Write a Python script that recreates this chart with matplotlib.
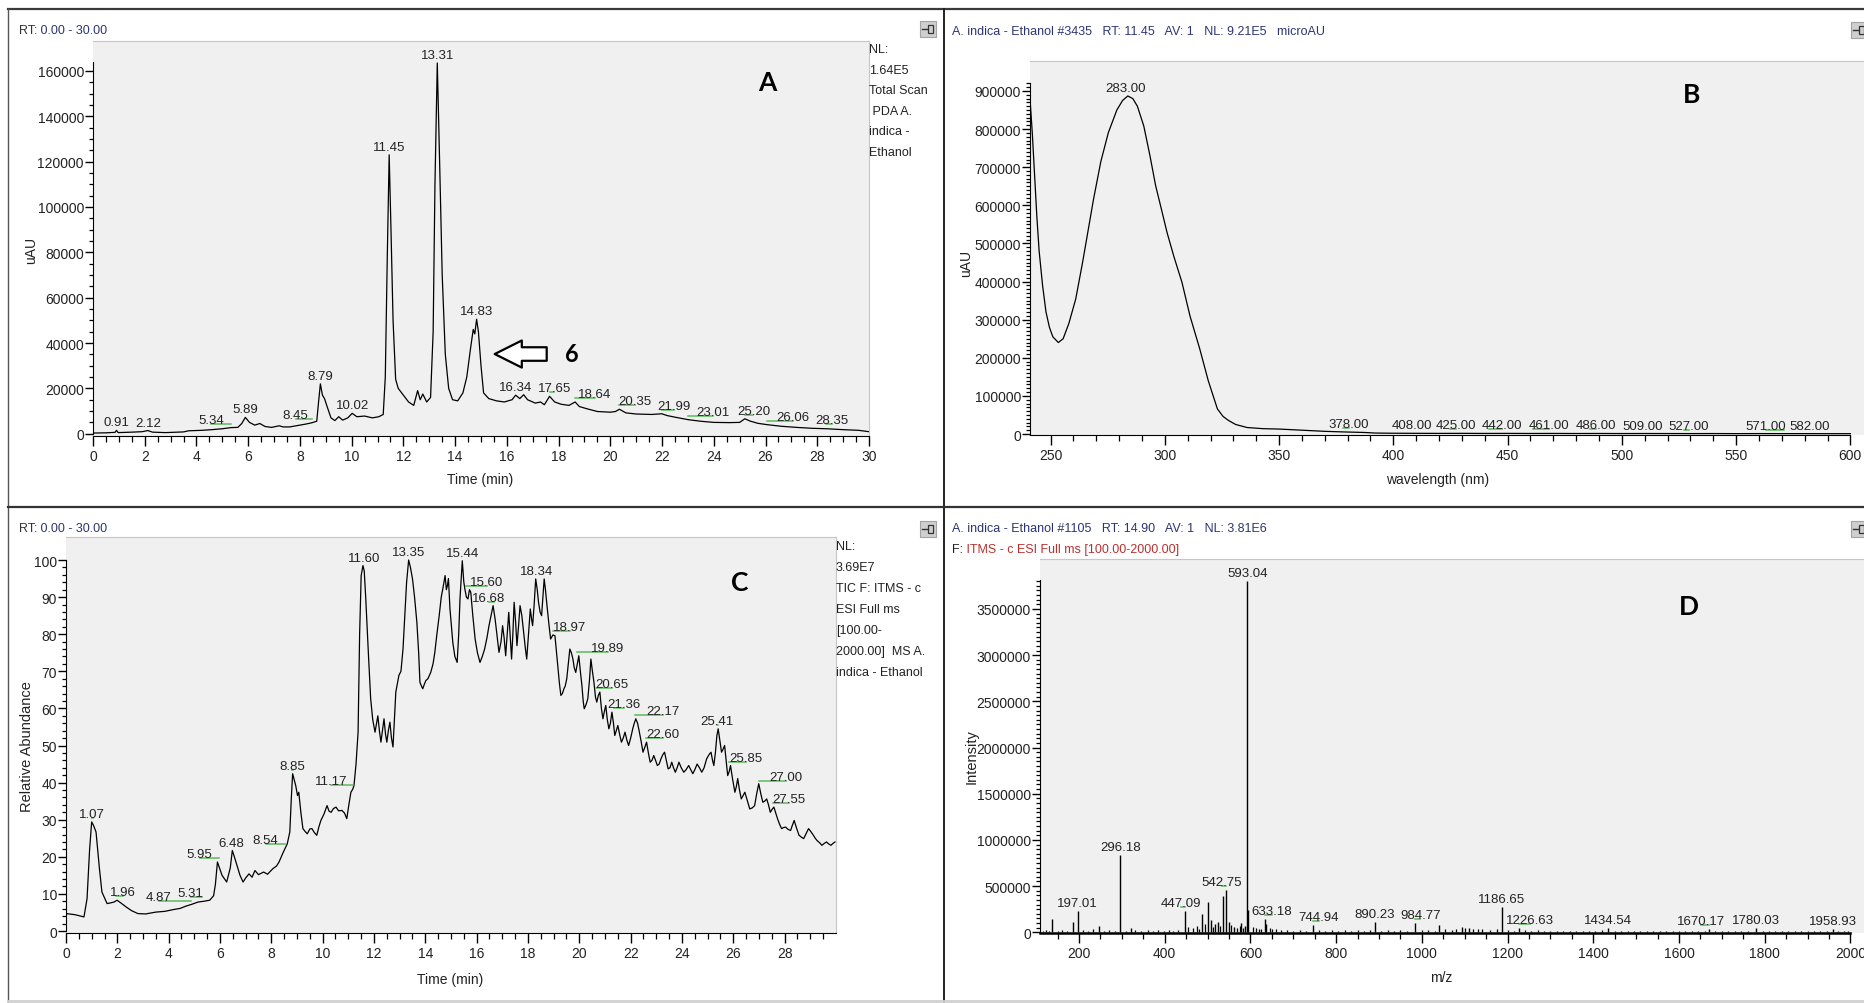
import numpy as np
import matplotlib
matplotlib.use('Agg')
import matplotlib.pyplot as plt
import matplotlib.transforms as mtransforms
from matplotlib import font_manager
from matplotlib.ticker import FixedLocator, FuncFormatter
from matplotlib.patches import Rectangle
from matplotlib.lines import Line2D

# ---------------- data ----------------
# A: PDA total scan chromatogram (uAU vs time)
a_time = [0.0, 0.5, 0.85, 0.91, 0.97, 1.5, 1.9, 2.12, 2.3, 2.8, 3.5, 3.7, 4.2, 4.6, 5.0, 5.34,
          5.6, 5.75, 5.89, 6.05, 6.25, 6.45, 6.65, 6.9, 7.2, 7.35, 7.6, 7.9, 8.2, 8.45, 8.65,
          8.72, 8.79, 8.87, 8.95, 9.05, 9.2, 9.35, 9.5, 9.65, 9.85, 10.02, 10.2, 10.5, 10.8,
          11.05, 11.22, 11.3, 11.38, 11.45, 11.52, 11.6, 11.7, 11.8, 12.0, 12.2, 12.4, 12.55,
          12.65, 12.75, 12.9, 13.05, 13.15, 13.22, 13.31, 13.4, 13.5, 13.62, 13.75, 13.9,
          14.1, 14.3, 14.45, 14.6, 14.7, 14.76, 14.83, 14.9, 15.0, 15.1, 15.3, 15.6, 15.9,
          16.2, 16.34, 16.5, 16.65, 16.8, 17.1, 17.3, 17.45, 17.65, 17.85, 18.1, 18.4, 18.64,
          18.8, 19.1, 19.5, 20.0, 20.2, 20.35, 20.6, 21.0, 21.6, 21.99, 22.2, 22.5, 23.01,
          23.5, 24.0, 24.6, 25.0, 25.2, 25.4, 25.7, 26.06, 26.6, 27.2, 27.8, 28.35, 29.0,
          29.6, 30.0]
a_uau = [300, 400, 600, 1500, 500, 700, 900, 1400, 700, 500, 800, 1300, 1500, 1800, 2200, 2700,
         2800, 4500, 7200, 5000, 3800, 4500, 3200, 2800, 3500, 3000, 3000, 3600, 4200, 4800, 5500,
         14000, 22000, 17000, 15500, 12000, 7000, 5800, 7500, 6000, 7000, 9000, 7500, 7800, 7000,
         7500, 8500, 25000, 80000, 123000, 90000, 50000, 24000, 20000, 17000, 14000, 12500, 19000,
         15000, 17500, 14000, 16000, 45000, 110000, 163500, 120000, 70000, 35000, 20000, 15000,
         14500, 18000, 25000, 38000, 46000, 44000, 50500, 45000, 30000, 18000, 15500, 14500, 14000,
         15000, 17000, 15500, 17200, 15000, 13500, 14000, 12800, 16500, 14000, 13000, 12500, 14000,
         12000, 11000, 9800, 9500, 9800, 10800, 9200, 8700, 8500, 8800, 8000, 7300, 6200,
         5500, 5000, 4900, 5000, 6600, 5600, 4600, 4000, 3300, 2800, 2400, 2200, 1800,
         1500, 900]
a_peaks = [0.91, 2.12, 5.34, 5.89, 8.45, 8.79, 10.02, 11.45, 13.31, 14.83, 16.34, 17.65,
           18.64, 20.35, 21.99, 23.01, 25.20, 26.06, 28.35]

# B: UV spectrum at RT 11.45 (uAU vs wavelength)
b_wl = [241, 242, 243, 244, 245, 246.5, 248, 249.5, 251, 253.4, 255.5, 258, 261, 264, 268.8,
        272, 275.3, 279, 281.5, 283.8, 286, 288, 290.8, 293.5, 296, 298.5, 301, 304, 307.5,
        311, 315.3, 319, 323, 325.5, 328, 331, 336, 343, 350, 360, 370, 378, 387.5, 392, 400,
        410, 420, 430, 440, 450, 460, 470, 480, 490, 500, 510, 520, 530, 540, 550, 560, 570,
        580, 590, 600]
b_uau = [880000, 790000, 680000, 570000, 480000, 390000, 320000, 280000, 255000, 240000, 250000,
         290000, 354000, 450000, 616000, 715000, 791000, 850000, 875000, 887000, 880000, 860000,
         808000, 730000, 651000, 590000, 528000, 465000, 398000, 310000, 223000, 140000, 66000,
         46000, 35000, 25000, 17000, 14000, 13000, 10000, 7000, 5500, 4000, 2500, 2000, 1800,
         1600, 1700, 1500, 1600, 1400, 1500, 1300, 1400, 1200, 1300, 1200, 1100, 1200, 1000,
         1100, 1000, 1000, 900, 900]
b_peaks = [283.00, 378.00, 408.00, 425.00, 442.00, 461.00, 486.00, 509.00, 527.00, 571.00, 582.00]

# C: TIC chromatogram (relative abundance vs time), (time, abundance)
c_trace = [(0.0, 4.7), (0.35, 4.4), (0.7, 3.8), (0.82, 8.7), (0.92, 22), (1.0, 29.4), (1.07, 28.5),
           (1.17, 26.7), (1.3, 17), (1.4, 10.5), (1.6, 7.4), (1.75, 7.6), (1.87, 7.8), (1.99, 8.3),
           (2.15, 7.5), (2.34, 6.5), (2.55, 5.5), (2.8, 4.7), (3.1, 4.6), (3.5, 5.1), (3.85, 5.3),
           (4.2, 5.8), (4.45, 6.1), (4.67, 6.7), (4.9, 7.2), (5.14, 7.8), (5.35, 8.0), (5.6, 8.3),
           (5.75, 9.5), (5.82, 12.5), (5.9, 18.6), (5.98, 17.0), (6.08, 15.0), (6.26, 13.2),
           (6.4, 17), (6.48, 21.7), (6.56, 20), (6.66, 17.7), (6.78, 15), (6.9, 13.2), (7.0, 14.3),
           (7.13, 15.4), (7.25, 14.5), (7.36, 16.3), (7.5, 15.2), (7.7, 15.9), (7.85, 15.3),
           (8.06, 16.8), (8.2, 17.5), (8.3, 18.6), (8.45, 21), (8.53, 22.2), (8.62, 23.5),
           (8.72, 26.7), (8.78, 36), (8.83, 42.4), (8.9, 40.5), (8.95, 39.2), (9.02, 36.5),
           (9.07, 37.4), (9.15, 32), (9.23, 27.6), (9.32, 26.8), (9.4, 26.2), (9.5, 27.5),
           (9.58, 27.6), (9.68, 26.5), (9.77, 25.8), (9.85, 28), (9.93, 29.8), (10.05, 31.5),
           (10.17, 33.8), (10.25, 32.3), (10.33, 32), (10.42, 33), (10.52, 33.4), (10.62, 32.4),
           (10.75, 32.5), (10.85, 31.8), (10.94, 30.3), (11.02, 34), (11.1, 37.4), (11.17, 38.2),
           (11.22, 39.2), (11.3, 45), (11.38, 53.6), (11.44, 80), (11.5, 95.8), (11.57, 98.5),
           (11.62, 97), (11.68, 89.5), (11.78, 75), (11.87, 62.6), (11.95, 57), (12.04, 53.6),
           (12.1, 56), (12.15, 58), (12.21, 54), (12.27, 50.9), (12.33, 54), (12.39, 57.2),
           (12.45, 53), (12.5, 50.9), (12.56, 54), (12.62, 56.3), (12.68, 52), (12.74, 49.6),
           (12.8, 58), (12.85, 64.4), (12.97, 68.9), (13.05, 70), (13.13, 76), (13.2, 85),
           (13.27, 94), (13.35, 100), (13.42, 98), (13.5, 94.9), (13.58, 90), (13.67, 83.2),
           (13.74, 75), (13.79, 67), (13.85, 66), (13.9, 65.3), (13.96, 66.5), (14.02, 67.5),
           (14.1, 68), (14.21, 69.7), (14.3, 72), (14.37, 75.1), (14.45, 80), (14.54, 85),
           (14.62, 90), (14.68, 92.2), (14.77, 95.8), (14.82, 92), (14.86, 93.1), (14.9, 95),
           (14.96, 86.8), (15.02, 82), (15.07, 77.8), (15.15, 74), (15.24, 72.4), (15.3, 80),
           (15.35, 89.5), (15.44, 99.8), (15.5, 94), (15.54, 92.2), (15.6, 90), (15.66, 89.5),
           (15.72, 92), (15.77, 91.3), (15.85, 85), (15.94, 78.7), (16.03, 75), (16.13, 72.4),
           (16.22, 74), (16.31, 76), (16.4, 79), (16.48, 82.3), (16.56, 85), (16.64, 87.7),
           (16.72, 84), (16.78, 80.5), (16.87, 75.1), (16.95, 78), (17.01, 82.3), (17.07, 79),
           (17.13, 74.2), (17.19, 80), (17.25, 85.9), (17.3, 80), (17.36, 73.3), (17.41, 80),
           (17.46, 88.6), (17.52, 83), (17.57, 76.9), (17.63, 82), (17.69, 87.7), (17.76, 85),
           (17.83, 80.5), (17.9, 76), (17.95, 73.3), (18.02, 80), (18.09, 86.8), (18.14, 84),
           (18.18, 82.3), (18.24, 88), (18.3, 94.9), (18.36, 92), (18.41, 88.6), (18.47, 86),
           (18.53, 85), (18.58, 90), (18.63, 94.9), (18.68, 92), (18.74, 87.7), (18.81, 83),
           (18.88, 78.7), (18.97, 79.8), (19.05, 79.6), (19.1, 76), (19.16, 71.5), (19.22, 67),
           (19.28, 63.5), (19.34, 64), (19.4, 65.3), (19.45, 66), (19.51, 68), (19.57, 72),
           (19.63, 76), (19.69, 75), (19.75, 73.3), (19.8, 71), (19.86, 69.7), (19.92, 72),
           (19.98, 74.2), (20.04, 70), (20.1, 66.2), (20.15, 62), (20.19, 59.9), (20.26, 61),
           (20.33, 62.6), (20.4, 68), (20.45, 73.3), (20.51, 70), (20.57, 67), (20.63, 63),
           (20.68, 61.7), (20.74, 63.5), (20.8, 64.4), (20.86, 60), (20.92, 57.2), (20.97, 59),
           (21.03, 60.8), (21.09, 57), (21.15, 54.5), (21.21, 56), (21.27, 59), (21.33, 56),
           (21.38, 52.7), (21.44, 54), (21.5, 55.4), (21.57, 53), (21.64, 50.9), (21.71, 52),
           (21.78, 53.6), (21.85, 51.5), (21.92, 50), (22.0, 52), (22.08, 54.5), (22.14, 56),
           (22.2, 57.2), (22.27, 56), (22.34, 53.6), (22.41, 51), (22.48, 48.2), (22.55, 49.5),
           (22.62, 50.9), (22.69, 48), (22.76, 45.5), (22.83, 46), (22.9, 47.3), (22.97, 46),
           (23.04, 44.6), (23.11, 45), (23.18, 46.4), (23.25, 47.5), (23.32, 48.2), (23.39, 46),
           (23.46, 43.7), (23.53, 44), (23.6, 45.5), (23.67, 44), (23.74, 42.8), (23.81, 44),
           (23.88, 45.5), (23.97, 44), (24.07, 42.8), (24.16, 43.5), (24.26, 44.6), (24.34, 43.5),
           (24.42, 42.4), (24.5, 43.5), (24.59, 45), (24.68, 44), (24.77, 42.8), (24.86, 44),
           (24.96, 46.4), (25.05, 47.5), (25.13, 48.2), (25.19, 46), (25.24, 44.6), (25.3, 48),
           (25.36, 52.7), (25.41, 54.5), (25.48, 51), (25.54, 48.2), (25.6, 49), (25.66, 50),
           (25.72, 46), (25.78, 41.9), (25.84, 43), (25.89, 44.6), (25.97, 41), (26.06, 37.4),
           (26.12, 39), (26.17, 41.1), (26.24, 38), (26.31, 35.6), (26.38, 36.5), (26.45, 37.4),
           (26.55, 35), (26.64, 32.9), (26.74, 33.2), (26.83, 33.8), (26.91, 37), (26.99, 39.7),
           (27.07, 37), (27.15, 34.7), (27.22, 35), (27.3, 35.6), (27.37, 34), (27.44, 32),
           (27.51, 32.8), (27.58, 33.4), (27.65, 31.8), (27.72, 30.3), (27.8, 28.8), (27.88, 27.6),
           (27.96, 27.9), (28.04, 28), (28.13, 27.4), (28.23, 27.1), (28.3, 28.5), (28.37, 29.8),
           (28.46, 27.8), (28.56, 25.8), (28.65, 25.3), (28.74, 24.9), (28.83, 26.2), (28.93, 27.6),
           (29.02, 26.8), (29.12, 25.8), (29.19, 25), (29.26, 24.4), (29.36, 23.8), (29.45, 23.1),
           (29.54, 23.6), (29.63, 24), (29.71, 23.5), (29.8, 23.1), (29.88, 23.6), (29.96, 24)]
c_time = [p[0] for p in c_trace]
c_rel = [p[1] for p in c_trace]
c_peaks = [1.07, 1.96, 4.87, 5.31, 5.95, 6.48, 8.54, 8.85, 11.17, 11.60, 13.35, 15.44, 15.60,
           16.68, 18.34, 18.97, 19.89, 20.65, 21.36, 22.17, 22.60, 25.41, 25.85, 27.00, 27.55]

# D: full MS spectrum at RT 14.90 (intensity vs m/z)
d_mz = [138, 185, 197.01, 246, 296.18, 322, 447.09, 488, 500, 507.6, 517, 524.7, 535, 542.75,
        550, 561, 579, 587, 593.04, 594.1, 633.18, 636, 744.94, 890.23, 984.77, 1040, 1093, 1110,
        1186.65, 1226.63, 1434.54, 1670.17, 1780.03, 1958.93]
d_int = [144000, 108000, 234000, 65000, 837000, 43000, 234000, 202000, 325000, 137000, 90000,
         108000, 390000, 462000, 108000, 54000, 101000, 72000, 3806000, 240000, 144000, 90000,
         79000, 108000, 101000, 79000, 55000, 45000, 277000, 45000, 50000, 40000, 45000, 40000]
# small noise sticks along the baseline, (m/z, intensity)
d_noise = [(115, 15000), (122, 22000), (130, 12000), (150, 18000), (160, 25000), (172, 14000),
           (210, 20000), (222, 12000), (233, 30000), (258, 16000), (270, 22000), (283, 14000),
           (310, 18000), (330, 26000), (345, 12000), (360, 20000), (372, 15000), (385, 24000),
           (398, 13000), (410, 28000), (420, 17000), (432, 22000), (455, 60000), (465, 45000),
           (475, 70000), (480, 40000), (495, 90000), (512, 60000), (528, 70000), (555, 80000),
           (568, 50000), (575, 65000), (583, 45000), (605, 60000), (612, 50000), (620, 40000),
           (625, 35000), (645, 45000), (650, 38000), (660, 30000), (672, 22000), (685, 26000),
           (700, 18000), (715, 24000), (730, 16000), (760, 22000), (775, 18000), (790, 25000),
           (805, 14000), (820, 20000), (835, 17000), (850, 23000), (865, 15000), (880, 20000),
           (905, 16000), (920, 24000), (935, 13000), (950, 20000), (965, 18000), (1000, 25000),
           (1015, 20000), (1030, 16000), (1055, 30000), (1070, 25000), (1080, 35000),
           (1100, 45000), (1120, 38000), (1130, 30000), (1140, 35000), (1160, 28000),
           (1175, 32000), (1200, 20000), (1215, 18000), (1240, 22000), (1255, 16000),
           (1270, 20000), (1285, 15000), (1300, 18000), (1315, 14000), (1330, 17000),
           (1345, 13000), (1360, 19000), (1375, 15000), (1390, 18000), (1405, 14000),
           (1420, 20000), (1450, 16000), (1465, 18000), (1480, 14000), (1495, 17000),
           (1510, 13000), (1525, 19000), (1540, 15000), (1555, 17000), (1570, 13000),
           (1585, 18000), (1600, 14000), (1615, 16000), (1630, 12000), (1645, 17000),
           (1660, 14000), (1685, 15000), (1700, 18000), (1715, 13000), (1730, 16000),
           (1745, 12000), (1760, 17000), (1795, 14000), (1810, 16000), (1825, 12000),
           (1840, 15000), (1855, 13000), (1870, 17000), (1885, 12000), (1900, 15000),
           (1915, 13000), (1930, 16000), (1945, 12000), (1970, 14000), (1985, 18000),
           (1995, 11000)]
d_noise_mz = [p[0] for p in d_noise]
d_noise_int = [p[1] for p in d_noise]
d_peaks = [197.01, 296.18, 447.09, 542.75, 593.04, 633.18, 744.94, 890.23, 984.77, 1186.65,
           1226.63, 1434.54, 1670.17, 1780.03, 1958.93]

# label shifts (x offset of the peak label from its peak, in data units)
a_dx = [0, 0, -0.78, 0, -0.62, 0, 0, 0, 0, 0, 0, 0.19, 0.77, 0.61, 0.48, 0.96, 0.33, 1.0, 0.21]
b_dx = [0, 2.5, 0, 2.5, 5.4, 7, 2.6, 0, 2.4, -8, 0]
c_dx = [-0.05, 0.26, -1.25, -0.45, -0.74, -0.03, -0.76, -0.04, -0.84, 0, 0, 0, 0.8, -0.21, 0,
        0.66, 1.21, 0.62, 0.37, 1.08, 0.65, -0.05, 0.63, 1.04, 0.61]
d_dx = [0, 0, -10, -10, 0, 16, 15, 0, 12, 0, 25, 0, -19, 0, 0]

# ---------------- fonts / colours ----------------
names = {f.name for f in font_manager.fontManager.ttflist}
NARROW = 'Liberation Sans Narrow' if 'Liberation Sans Narrow' in names else 'Liberation Sans'
narrow = NARROW == 'Liberation Sans Narrow'
FS = 11 if narrow else 10       # tick labels
LS = 10.5 if narrow else 9.5    # peak labels
HS = 10 if narrow else 9        # header / NL text
plt.rcParams['font.family'] = [NARROW, 'DejaVu Sans']
BOLD = ['Lato', 'DejaVu Sans']
NAVY = '#2b3575'
RED = '#b8322e'
TXT = '#222222'
GRAY = '#f0f0f0'
GREEN = '#5cb85c'

W, H = 1865, 1004
fig = plt.figure(figsize=(W / 100, H / 100), dpi=100)
fig.patch.set_facecolor('white')


def px_axes(l, t, r, b):
    return fig.add_axes([l / W, 1 - b / H, (r - l) / W, (b - t) / H])


def ftext(x, y, s, **kw):
    return fig.text(x / W, 1 - y / H, s, **kw)


def style(ax, box, xlim, ylim, xmaj, xmin, ymaj, ymin, xb, yb):
    ax.set_facecolor(GRAY)
    ax.set_xlim(*xlim)
    ax.set_ylim(*ylim)
    for s in ('top', 'right'):
        ax.spines[s].set_color('#c6c6c6')
        ax.spines[s].set_linewidth(0.8)
    ax.spines['left'].set_bounds(*yb)
    ax.spines['bottom'].set_bounds(*xb)
    ax.xaxis.set_major_locator(FixedLocator(xmaj))
    ax.xaxis.set_minor_locator(FixedLocator(xmin))
    ax.yaxis.set_major_locator(FixedLocator(ymaj))
    ax.yaxis.set_minor_locator(FixedLocator(ymin))
    fmt = FuncFormatter(lambda v, p: '{:.0f}'.format(v))
    ax.xaxis.set_major_formatter(fmt)
    ax.yaxis.set_major_formatter(fmt)
    ax.tick_params(axis='x', which='major', direction='out', length=7.5, width=1, pad=2,
                   labelsize=FS, labelcolor=TXT)
    ax.tick_params(axis='x', which='minor', direction='out', length=4.5, width=0.9)
    ax.tick_params(axis='y', which='major', direction='out', length=6, width=1, pad=0.5,
                   labelsize=FS, labelcolor=TXT)
    ax.tick_params(axis='y', which='minor', direction='out', length=3, width=0.9)
    ax._box = box


def set_labels(ax, xl, xpos, yl, ypos, yfont=None):
    l, t, r, b = ax._box
    ax.set_xlabel(xl, fontsize=FS, color=TXT, ha='center', va='center')
    ax.xaxis.set_label_coords((xpos[0] - l) / (r - l), (b - xpos[1]) / (b - t))
    kw = dict(fontsize=FS, color=TXT, ha='center', va='center')
    if yfont:
        kw['family'] = yfont
        kw['fontsize'] = 10.5
    ax.set_ylabel(yl, **kw)
    ax.yaxis.set_label_coords((ypos[0] - l) / (r - l), (b - ypos[1]) / (b - t))


def peak_labels(ax, xs, ys, peaks, dxs, line=True):
    xs = np.asarray(xs, float)
    ys = np.asarray(ys, float)
    l, t, r, b = ax._box
    x0, x1 = ax.get_xlim()
    hw = 13.5 * (x1 - x0) / (r - l)
    up = mtransforms.offset_copy(ax.transData, fig=fig, x=0, y=4, units='dots')
    for rt, dx in zip(peaks, dxs):
        xc = rt + dx
        lo, hi = min(rt, xc - hw), max(rt, xc + hw)
        m = (xs >= lo - 1e-9) & (xs <= hi + 1e-9)
        cand = list(ys[m])
        if line:
            cand += [np.interp(lo, xs, ys), np.interp(hi, xs, ys)]
        top = max(cand) if cand else 0.0
        ax.annotate('{:.2f}'.format(rt), xy=(xc, top), xytext=(0, 2),
                    textcoords='offset pixels', ha='center', va='bottom',
                    fontsize=LS, color=TXT, annotation_clip=False)
        if dx != 0:
            ax.add_line(Line2D([rt, xc], [top, top], transform=up, color=GREEN, lw=1.1))


def two_tone(x, y, parts, gap=0):
    rend = fig.canvas.get_renderer()
    for s, c in parts:
        t = ftext(x, y, s, color=c, fontsize=HS, ha='left', va='center')
        x += t.get_window_extent(renderer=rend).width + gap


def pin(x, y):
    fig.add_artist(Rectangle((x / W, 1 - (y + 16) / H), 16 / W, 16 / H, transform=fig.transFigure,
                             fc='#cfcfcf', ec='#a3a3a3', lw=0.8))
    fig.add_artist(Line2D([(x + 2) / W, (x + 8) / W], [1 - (y + 8) / H] * 2, color='#333', lw=1))
    fig.add_artist(Rectangle(((x + 8) / W, 1 - (y + 12) / H), 5 / W, 8 / H,
                             transform=fig.transFigure, fc='none', ec='#333', lw=0.9))


# ---------------- panel A ----------------
boxA = (93, 42, 869, 437)
axA = px_axes(*boxA)
style(axA, boxA, (0, 30), (-1000, 173200), np.arange(0, 31, 2), np.arange(0, 30.01, 0.5),
      np.arange(0, 160001, 20000), np.arange(0, 164001, 5000), (0, 30), (0, 164000))
axA.plot(a_time, a_uau, color='black', lw=0.9)
peak_labels(axA, a_time, a_uau, a_peaks, a_dx)
set_labels(axA, 'Time (min)', (480, 480), 'uAU', (31, 250))
axA.annotate('', xy=(15.53, 35150), xytext=(17.54, 35150),
             arrowprops=dict(arrowstyle='simple,head_length=1.5,head_width=1.5,tail_width=0.75',
                             fc='white', ec='black', lw=1.6, shrinkA=0, shrinkB=0,
                             mutation_scale=13))
ftext(572, 355, '6', fontsize=17, fontweight='bold', family=BOLD, ha='center', va='center')
ftext(767, 83, 'A', fontsize=19, fontweight='bold', family=BOLD, ha='center', va='center')
for i, s in enumerate(['NL:', '1.64E5', 'Total Scan', ' PDA A.', 'indica -', 'Ethanol']):
    ftext(869, 50 + 20.6 * i, s, fontsize=HS, color=TXT, ha='left', va='center')
two_tone(19, 31, [('RT:', '#333333'), (' 0.00 - 30.00', NAVY)])

# ---------------- panel B ----------------
boxB = (1030, 62, 1865, 436)
axB = px_axes(*boxB)
style(axB, boxB, (241, 606.4), (-2600, 978700), np.arange(250, 601, 50), np.arange(250, 601, 10),
      np.arange(0, 900001, 100000), np.arange(0, 920001, 10000), (241, 600), (0, 921000))
axB.plot(b_wl, b_uau, color='black', lw=0.9)
peak_labels(axB, b_wl, b_uau, b_peaks, b_dx)
set_labels(axB, 'wavelength (nm)', (1438, 480), 'uAU', (966, 263))
ftext(1692, 95, 'B', fontsize=19, fontweight='bold', family=BOLD, ha='center', va='center')
ftext(952, 32, 'A. indica - Ethanol #3435   RT: 11.45   AV: 1   NL: 9.21E5   microAU',
      fontsize=HS, color=NAVY, ha='left', va='center')

# ---------------- panel C ----------------
boxC = (66, 538, 836, 933.5)
axC = px_axes(*boxC)
style(axC, boxC, (0, 30), (-0.4, 106.2), np.arange(0, 29, 2), np.arange(0, 29.6, 0.5),
      np.arange(0, 101, 10), np.arange(0, 101, 2), (0, 30), (0, 100))
axC.plot(c_time, c_rel, color='black', lw=0.9)
peak_labels(axC, c_time, c_rel, c_peaks, c_dx)
set_labels(axC, 'Time (min)', (450, 980), 'Relative Abundance', (27, 747),
           yfont=['Liberation Sans', 'DejaVu Sans'])
ftext(740, 583, 'C', fontsize=19, fontweight='bold', family=BOLD, ha='center', va='center')
for i, s in enumerate(['NL:', '3.69E7', 'TIC F: ITMS - c', 'ESI Full ms', '[100.00-',
                       '2000.00]  MS A.', 'indica - Ethanol']):
    ftext(836, 547 + 21 * i, s, fontsize=HS, color=TXT, ha='left', va='center')
two_tone(19, 529, [('RT:', '#333333'), (' 0.00 - 30.00', NAVY)])

# ---------------- panel D ----------------
boxD = (1040, 560, 1865, 934)
axD = px_axes(*boxD)
style(axD, boxD, (109, 2034), (-8000, 4041000), np.arange(200, 2001, 200),
      np.arange(150, 2001, 50), np.arange(0, 3500001, 500000), np.arange(0, 3800001, 50000),
      (109, 2000), (0, 3810000))
axD.vlines(d_noise_mz, 0, d_noise_int, color='black', lw=0.9)
axD.vlines(d_mz, 0, d_int, color='black', lw=1.0)
axD.spines['bottom'].set_linewidth(1.8)
all_mz = list(d_mz) + list(d_noise_mz)
all_int = list(d_int) + list(d_noise_int)
peak_labels(axD, all_mz, all_int, d_peaks, d_dx, line=False)
set_labels(axD, 'm/z', (1441, 978), 'Intensity', (972, 757),
           yfont=['Liberation Sans', 'DejaVu Sans'])
ftext(1689, 607, 'D', fontsize=19, fontweight='bold', family=BOLD, ha='center', va='center')
ftext(952, 529, 'A. indica - Ethanol #1105   RT: 14.90   AV: 1   NL: 3.81E6',
      fontsize=HS, color=NAVY, ha='left', va='center')
two_tone(952, 550, [('F:', '#222222'), (' ITMS - c ESI Full ms [100.00-2000.00]', RED)])

# ---------------- window frame ----------------
def fline(xs, ys, color, lw):
    fig.add_artist(Line2D([x / W for x in xs], [1 - y / H for y in ys], color=color, lw=lw))

fline([8, W], [10, 10], '#3a3a3a', 1.6)
fline([8, 8], [10, H], '#555555', 1.0)
fline([944, 944], [10, H], '#222222', 1.4)
fline([8, W], [508, 508], '#333333', 1.6)
fline([8, W], [1001.5, 1001.5], '#d0d0d0', 2.0)
pin(920, 22)
pin(1851, 23)
pin(920, 522)
pin(1851, 522)

fig.savefig('out.png', dpi=100, facecolor='white')
